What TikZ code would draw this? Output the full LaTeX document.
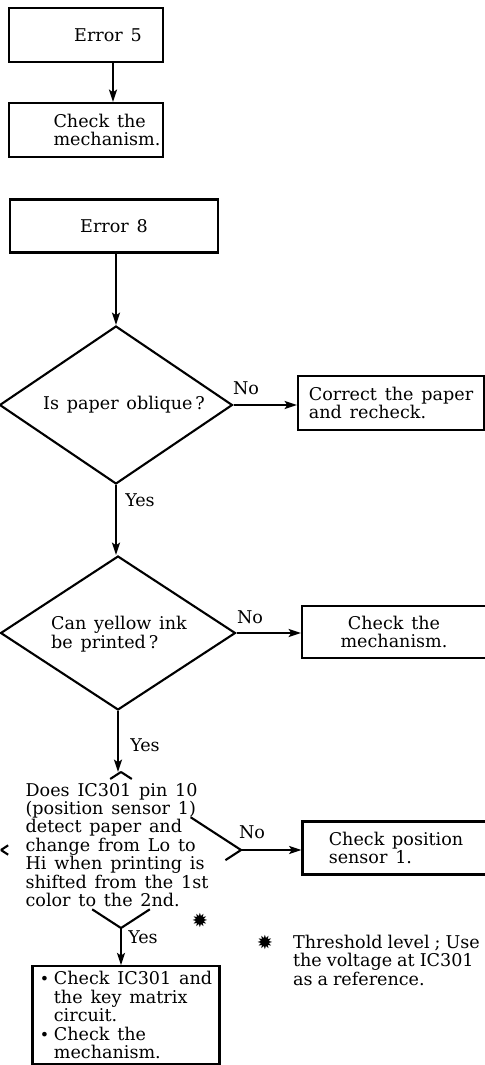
\documentclass[tikz,border=0pt]{standalone}
\usepackage{fontspec}
\setmainfont[WordSpace=1.4]{DejaVu Serif}
\newfontfamily\notefont[WordSpace=0.9]{DejaVu Serif}
\newfontfamily\symfont{DejaVu Sans}
\usetikzlibrary{
  shapes.geometric, % Shape "diamond"
  arrows.meta,
  positioning,
  calc,             % Partial edges $(a)!f!(b)$
}
\newcommand{\bul}{\makebox[8pt][l]{\small\textbullet}}
\newcommand{\ind}{\hspace*{8pt}}
\newcommand{\thstar}{{\symfont\fontsize{11}{11}\selectfont ✹}}
\tikzset{
  font=\fontsize{10}{10.5}\selectfont,
  every picture/.append style={line width=1.2pt},
  >={Stealth[length=7pt,width=4.5pt,inset=1.5pt]},
  my box/.style={
    draw,
    rectangle,
    inner sep=1mm
  },
  my decision/.style={
    draw,
    diamond,
    inner sep=0pt
  },
  my text/.style={
    inner sep=0pt,
    align=left
  },
  my label/.style={
    inner sep=1pt
  }
}

\begin{document}
\begin{tikzpicture}[x=0.02cm,y=-0.02cm]
\useasboundingbox (0,0) rectangle (484,1065);
% Error 5
\node[my box,minimum width=3.08cm,minimum height=1.08cm] (err5) at (86,35) {};
\node[my text] (err5t) at (108,35) {Error 5};
\node[my box,minimum width=3.08cm,minimum height=1.08cm] (mech1) at (86,130) {};
\node[my text] (mech1t) at (107,130) {Check the\\mechanism.};
\coordinate (c5) at (113,0);
\draw[->] (err5.south -| c5) -- (mech1.north -| c5);
% Error 8
\node[my box,minimum width=4.16cm,minimum height=1.06cm] (err8) at (114,226) {Error 8};
\node[my decision,minimum width=4.66cm,minimum height=3.16cm] (d1) at (116,405) {};
\node[my text] (q1) at (124,405) {Is paper oblique\,?};
\node[my box,minimum width=3.72cm,minimum height=1.08cm,align=left] (fix1) at (391,403)
  {Correct the paper\\and recheck.};
\draw[->] (err8.south -| d1.north) -- (d1.north);
\draw[->] (d1.east) -- (d1.east -| fix1.west);
\node[my label] (no1) at (246,388) {No};
\node[my label] (yes1) at (140,500) {Yes};
% Yellow ink
\node[my decision,minimum width=4.70cm,minimum height=3.08cm] (d2) at (118,633) {};
\node[my text] (q2) at (119,634) {Can yellow ink\\be printed\,?};
\node[my box,minimum width=3.68cm,minimum height=1.04cm,align=center] (chk2) at (394,632)
  {Check the\\mechanism.};
\draw[->] (d1.south) -- (d1.south |- d2.north);
\draw[->] (d2.east) -- (d2.east -| chk2.west);
\node[my label] (no2) at (250,617) {No};
\node[my label] (yes2) at (145,745) {Yes};
% Position sensor
\node[my decision,draw=none,minimum width=4.76cm,minimum height=3.08cm] (d3) at (121,850) {};
\node[my text] (q3) at (117,845) {Does IC301 pin 10\\(position sensor 1)\\detect paper and\\
  change from Lo to\\Hi when printing is\\shifted from the 1st\\color to the 2nd.};
\draw (d3.north) -- ($(d3.north)!0.09!(d3.west)$);
\draw (d3.north) -- ($(d3.north)!0.09!(d3.east)$);
\draw (d3.west) -- ($(d3.west)!0.06!(d3.north)$);
\draw (d3.west) -- ($(d3.west)!0.06!(d3.south)$);
\draw (d3.east) -- ($(d3.east)!0.42!(d3.north)$);
\draw (d3.east) -- ($(d3.east)!0.13!(d3.south)$);
\draw (d3.south) -- ($(d3.south)!0.24!(d3.west)$);
\draw (d3.south) -- ($(d3.south)!0.24!(d3.east)$);
\node[my box,minimum width=3.74cm,minimum height=1.06cm,align=left] (pos) at (396,848)
  {Check position\\sensor 1.};
\draw[->] (d2.south) -- (d2.south |- d3.north);
\draw[->] (d3.east) -- (d3.east -| pos.west);
\node[my label] (no3) at (252,832) {No};
\node[my label] (yes3) at (143,937) {Yes};
\node[my label] (star1) at (200,920) {\thstar};
% Note
\node[my label] (star2) at (265,942) {\thstar};
\node[my text,anchor=north west,font=\notefont\fontsize{10}{10.5}\selectfont]
  (note) at (292,934) {Threshold level ; Use\\the voltage at IC301\\as a reference.};
% Action
\node[my box,minimum width=3.74cm,minimum height=1.92cm,align=left] (act) at (126,1015)
  {\bul Check IC301 and\\\ind the key matrix\\\ind circuit.\\\bul Check the\\\ind mechanism.};
\draw[->] (d3.south) -- (d3.south |- act.north);
\end{tikzpicture}
\end{document}
